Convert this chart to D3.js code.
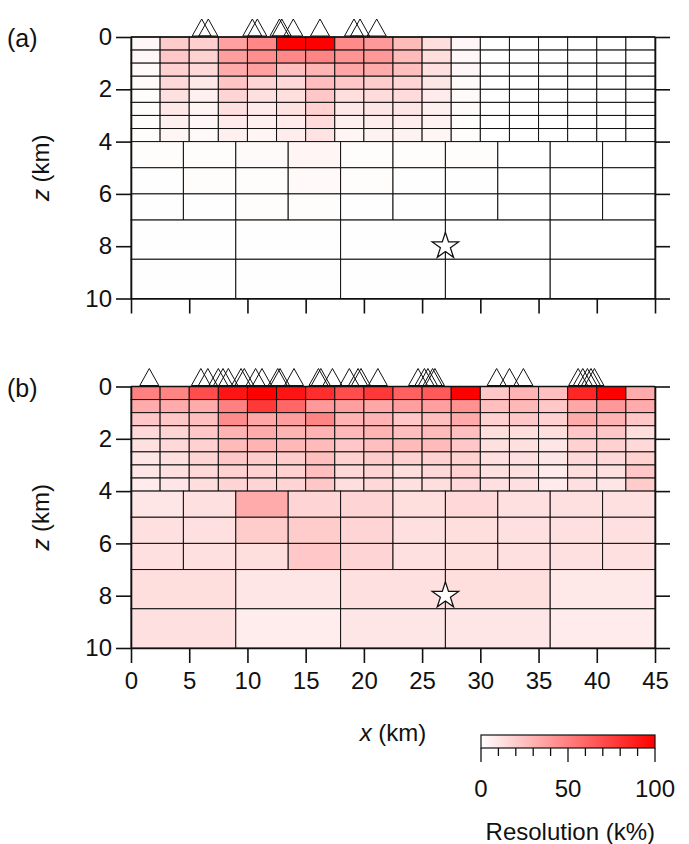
<!DOCTYPE html>
<html>
<head>
<meta charset="utf-8">
<script src="https://cdn.jsdelivr.net/npm/d3@7/dist/d3.min.js"></script>
<style>
  html, body { margin: 0; padding: 0; background: #fff; }
  svg { display: block; font-family: "Liberation Sans", Arial, Helvetica, sans-serif; }
</style>
</head>
<body>
<svg id="chart" width="689" height="844"></svg>
<script>
// Model geometry (km): cell edges of the three parameterisation layers
const shallowZ = [0, 0.5, 1, 1.5, 2, 2.5, 3, 3.5, 4];
const shallowX = [0, 2.5, 5, 7.5, 10, 12.5, 15, 17.5, 20, 22.5, 25, 27.5, 30, 32.5, 35, 37.5, 40, 42.5, 45];
const middleZ = [4, 5, 6, 7];
const middleX = [0, 4.5, 9, 13.5, 18, 22.5, 27, 31.5, 36, 40.5, 45];
const deepZ = [7, 8.5, 10];
const deepX = [0, 9, 18, 27, 36, 45];

// Axis ticks
const xTicks = [0, 5, 10, 15, 20, 25, 30, 35, 40, 45];
const zTicks = [0, 2, 4, 6, 8, 10];
const legendTicks = [0, 10, 20, 30, 40, 50, 60, 70, 80, 90, 100];
const legendLabels = [0, 50, 100];

// Resolution (k%) — panel (a)
const resA_shallow = [
  [3, 20, 19, 37, 47, 100, 100, 46, 40, 27, 13, 3, 0, 0, 0, 0, 0, 0],
  [3, 22, 18, 38, 44, 47, 48, 42, 40, 27, 13, 3, 0, 0, 0, 0, 0, 0],
  [2, 18, 15, 33, 37, 25, 29, 35, 33, 25, 12, 3, 0, 0, 0, 0, 0, 0],
  [2, 15, 9, 23, 17, 15, 26, 22, 20, 17, 10, 2, 0, 0, 0, 0, 0, 0],
  [1, 12, 6, 17, 12, 13, 22, 13, 14, 14, 8, 2, 0, 0, 0, 0, 0, 0],
  [1, 9, 4, 12, 8, 11, 18, 9, 10, 10, 6, 2, 0, 0, 0, 0, 0, 0],
  [1, 6, 3, 8, 6, 8, 14, 6, 7, 7, 5, 1, 0, 0, 0, 0, 0, 0],
  [1, 4, 2, 6, 4, 7, 11, 4, 5, 5, 4, 1, 0, 0, 0, 0, 0, 0]
];
const resA_middle = [
  [1, 1, 2, 4, 1, 1, 1, 0, 0, 0],
  [0.5, 1, 1, 2.5, 1, 0.5, 0.5, 0, 0, 0],
  [0.5, 0.5, 1, 1, 0.5, 0.5, 0, 0, 0, 0]
];
const resA_deep = [
  [0.5, 0.3, 0.3, 0, 0],
  [0.3, 0.2, 0.2, 0, 0]
];

// Resolution (k%) — panel (b)
const resB_shallow = [
  [50, 48, 70, 92, 100, 92, 82, 70, 78, 62, 65, 100, 22, 30, 25, 85, 100, 33],
  [33, 33, 33, 50, 78, 60, 40, 38, 35, 38, 38, 43, 25, 28, 22, 35, 40, 33],
  [22, 22, 25, 45, 35, 38, 48, 30, 30, 22, 25, 33, 18, 22, 18, 33, 30, 22],
  [15, 17, 22, 30, 33, 30, 30, 28, 30, 25, 27, 25, 13, 13, 13, 22, 22, 13],
  [12, 15, 18, 27, 30, 28, 27, 22, 25, 27, 27, 22, 12, 12, 10, 18, 18, 15],
  [10, 12, 17, 22, 20, 20, 25, 18, 20, 18, 18, 18, 12, 12, 10, 15, 15, 18],
  [10, 12, 15, 18, 18, 18, 25, 15, 17, 13, 15, 18, 12, 12, 8, 13, 12, 22],
  [8, 10, 13, 17, 17, 17, 22, 13, 15, 12, 13, 15, 12, 12, 8, 12, 10, 20]
];
const resB_middle = [
  [10, 12, 33, 17, 17, 13, 15, 12, 12, 12],
  [12, 12, 20, 20, 17, 12, 13, 12, 12, 12],
  [12, 12, 13, 22, 17, 12, 13, 12, 12, 12]
];
const resB_deep = [
  [13, 10, 12, 13, 9],
  [12, 7, 10, 10, 8]
];

// Station positions along the surface (km)
const stationsA = [6.07, 6.64, 10.42, 10.85, 12.75, 12.95, 13.94, 16.23, 19.15, 19.67, 21.1];
const stationsB = [1.57, 6.0, 6.6, 7.5, 7.9, 8.36, 9.45, 9.73, 10.7, 11.25, 12.6, 12.8, 14.0,
                   16.1, 16.3, 17.3, 18.75, 19.5, 19.75, 21.2,
                   24.65, 25.2, 25.5, 25.9, 26.1, 31.4, 32.5, 33.7,
                   38.4, 38.8, 39.2, 39.5, 39.8];

// Hypocentre (x, z in km)
const hypocentre = [27, 8];

const svg = d3.select("#chart");
const INK = "#111";
const FS = "24px";
const x = d3.scaleLinear().domain([0, 45]).range([131, 655]);
const color = d3.scaleLinear().domain([0, 100]).range(["#ffffff", "#ff0000"]).interpolate(d3.interpolateRgb).clamp(true);

function drawPanel(opts) {
  const y = d3.scaleLinear().domain([0, 10]).range([opts.top, opts.top + 261.5]);
  const g = svg.append("g");

  // Cells of each layer
  const layers = [
    { zs: shallowZ, xs: shallowX, vals: opts.shallow },
    { zs: middleZ, xs: middleX, vals: opts.middle },
    { zs: deepZ, xs: deepX, vals: opts.deep }
  ];
  const cells = [];
  layers.forEach(L => {
    L.vals.forEach((row, i) => {
      row.forEach((v, j) => {
        cells.push({ x0: L.xs[j], x1: L.xs[j + 1], z0: L.zs[i], z1: L.zs[i + 1], v });
      });
    });
  });
  g.append("g").selectAll("rect").data(cells).join("rect")
    .attr("x", d => x(d.x0))
    .attr("y", d => y(d.z0))
    .attr("width", d => x(d.x1) - x(d.x0))
    .attr("height", d => y(d.z1) - y(d.z0))
    .attr("fill", d => color(d.v))
    .attr("stroke", INK)
    .attr("stroke-width", 1);

  // Axes
  const axisStyle = sel => {
    sel.selectAll(".domain").attr("stroke", INK).attr("stroke-width", 1.6);
    sel.selectAll(".tick line").attr("stroke", INK).attr("stroke-width", 1.6);
    sel.selectAll(".tick text").attr("fill", INK).style("font-size", FS)
      .style("font-family", "'Liberation Sans', Arial, sans-serif");
  };
  g.append("g").attr("transform", `translate(${x(0)},0)`)
    .call(d3.axisLeft(y).tickValues(zTicks).tickSize(15).tickSizeOuter(0).tickPadding(4))
    .call(axisStyle);
  g.append("g").attr("transform", `translate(${x(45)},0)`)
    .call(d3.axisRight(y).tickValues(zTicks).tickSize(15).tickSizeOuter(0).tickFormat(""))
    .call(axisStyle);
  g.append("g").attr("transform", `translate(0,${y(10)})`)
    .call(d3.axisBottom(x).tickValues(xTicks).tickSize(15).tickSizeOuter(0).tickPadding(9)
      .tickFormat(opts.xLabels ? d3.format("d") : ""))
    .call(axisStyle);
  g.append("line")
    .attr("x1", x(0)).attr("x2", x(45)).attr("y1", y(0)).attr("y2", y(0))
    .attr("stroke", INK).attr("stroke-width", 1.6);

  // Stations
  const triW = 19, triH = 17;
  g.append("g").selectAll("path").data(opts.stations).join("path")
    .attr("d", d => {
      const cx = x(d), by = y(0) - 1;
      return `M${cx - triW / 2},${by}L${cx},${by - triH}L${cx + triW / 2},${by}Z`;
    })
    .attr("fill", "none")
    .attr("stroke", INK)
    .attr("stroke-width", 1);

  // Hypocentre
  g.append("path")
    .attr("d", d3.symbol(d3.symbolStar, 215)())
    .attr("transform", `translate(${x(hypocentre[0])},${y(hypocentre[1])})`)
    .attr("fill", "#fff")
    .attr("stroke", INK)
    .attr("stroke-width", 1.3);

  // Labels
  g.append("text")
    .attr("x", 7).attr("y", opts.top + 10)
    .attr("fill", INK).style("font-size", "25px")
    .text(opts.tag);
  const zl = g.append("text")
    .attr("transform", `translate(49,${(y(0) + y(10)) / 2}) rotate(-90)`)
    .attr("text-anchor", "middle")
    .attr("fill", INK).style("font-size", FS);
  zl.append("tspan").style("font-style", "italic").text("z");
  zl.append("tspan").text(" (km)");
}

drawPanel({ top: 37, tag: "(a)", shallow: resA_shallow, middle: resA_middle, deep: resA_deep, stations: stationsA, xLabels: false });
drawPanel({ top: 386.5, tag: "(b)", shallow: resB_shallow, middle: resB_middle, deep: resB_deep, stations: stationsB, xLabels: true });

// x-axis title
const xl = svg.append("text")
  .attr("x", x(22.5)).attr("y", 741)
  .attr("text-anchor", "middle")
  .attr("fill", INK).style("font-size", FS);
xl.append("tspan").style("font-style", "italic").text("x");
xl.append("tspan").text(" (km)");

// Colour bar
const lx = d3.scaleLinear().domain([0, 100]).range([481, 655]);
const defs = svg.append("defs");
const grad = defs.append("linearGradient").attr("id", "resgrad");
grad.selectAll("stop").data([0, 100]).join("stop")
  .attr("offset", d => `${d}%`)
  .attr("stop-color", d => color(d));
const barTop = 735, barH = 13;
svg.append("rect")
  .attr("x", lx(0)).attr("y", barTop)
  .attr("width", lx(100) - lx(0)).attr("height", barH)
  .attr("fill", "url(#resgrad)")
  .attr("stroke", INK).attr("stroke-width", 1.2);
svg.append("g").selectAll("line").data(legendTicks).join("line")
  .attr("x1", d => lx(d)).attr("x2", d => lx(d))
  .attr("y1", barTop + barH)
  .attr("y2", d => barTop + barH + (legendLabels.includes(d) ? 14 : 8))
  .attr("stroke", INK).attr("stroke-width", 1.3);
svg.append("g").selectAll("text").data(legendLabels).join("text")
  .attr("x", d => lx(d)).attr("y", 797)
  .attr("text-anchor", "middle")
  .attr("fill", INK).style("font-size", FS)
  .text(d => d);
svg.append("text")
  .attr("x", 655).attr("y", 840)
  .attr("text-anchor", "end")
  .attr("fill", INK).style("font-size", FS)
  .text("Resolution (k%)");
</script>
</body>
</html>
